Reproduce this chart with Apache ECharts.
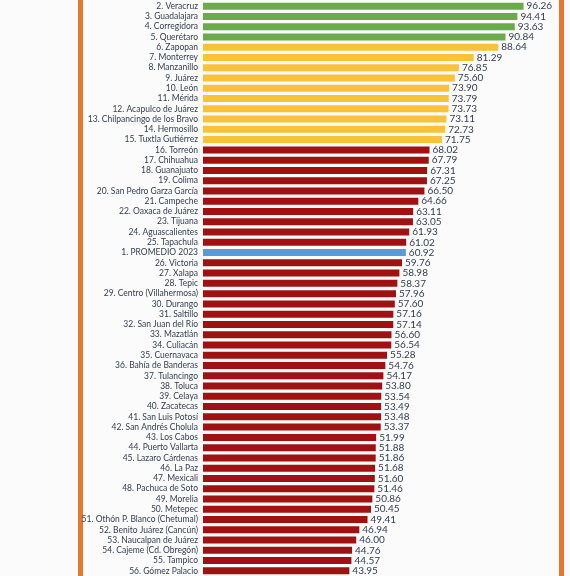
<!DOCTYPE html>
<html>
<head>
<meta charset="utf-8">
<script src="https://cdn.jsdelivr.net/npm/echarts@6/dist/echarts.min.js"></script>
<style>
html,body{margin:0;padding:0;background:#fbfbfb;}
#c{width:570px;height:576px;}
</style>
</head>
<body>
<div id="c"></div>
<script>
const categories = [
"2. Veracruz","3. Guadalajara","4. Corregidora","5. Querétaro","6. Zapopan","7. Monterrey","8. Manzanillo","9. Juárez","10. León","11. Mérida","12. Acapulco de Juárez","13. Chilpancingo de los Bravo","14. Hermosillo","15. Tuxtla Gutiérrez","16. Torreón","17. Chihuahua","18. Guanajuato","19. Colima","20. San Pedro Garza García","21. Campeche","22. Oaxaca de Juárez","23. Tijuana","24. Aguascalientes","25. Tapachula","1. PROMEDIO 2023","26. Victoria","27. Xalapa","28. Tepic","29. Centro (Villahermosa)","30. Durango","31. Saltillo","32. San Juan del Río","33. Mazatlán","34. Culiacán","35. Cuernavaca","36. Bahía de Banderas","37. Tulancingo","38. Toluca","39. Celaya","40. Zacatecas","41. San Luis Potosí","42. San Andrés Cholula","43. Los Cabos","44. Puerto Vallarta","45. Lazaro Cárdenas","46. La Paz","47. Mexicali","48. Pachuca de Soto","49. Morelia","50. Metepec","51. Othón P. Blanco (Chetumal)","52. Benito Juárez (Cancún)","53. Naucalpan de Juárez","54. Cajeme (Cd. Obregón)","55. Tampico","56. Gómez Palacio"
];
const values = [
96.26,94.41,93.63,90.84,88.64,81.29,76.85,75.60,73.90,73.79,73.73,73.11,72.73,71.75,68.02,67.79,67.31,67.25,66.50,64.66,63.11,63.05,61.93,61.02,60.92,59.76,58.98,58.37,57.96,57.60,57.16,57.14,56.60,56.54,55.28,54.76,54.17,53.80,53.54,53.49,53.48,53.37,51.99,51.88,51.86,51.68,51.60,51.46,50.86,50.45,49.41,46.94,46.00,44.76,44.57,43.95
];
const groups = [
"g","g","g","g","y","y","y","y","y","y","y","y","y","y","r","r","r","r","r","r","r","r","r","r","b","r","r","r","r","r","r","r","r","r","r","r","r","r","r","r","r","r","r","r","r","r","r","r","r","r","r","r","r","r","r","r"
];
const groupColors = {g:"#6cab4b", y:"#fcc13b", r:"#a01212", b:"#5b9bd5"};

const chart = echarts.init(document.getElementById('c'));
chart.setOption({
  backgroundColor: '#fbfbfb',
  animation: false,
  grid: {left: 203, top: 1, width: 333, height: 576, containLabel: false},
  xAxis: {type: 'value', min: 0, max: 100, show: false},
  yAxis: {
    type: 'category', inverse: true, data: categories,
    axisLine: {show: false}, axisTick: {show: false},
    axisLabel: {margin: 5, fontFamily: 'Lato', fontSize: 8.5, color: '#333d4f', interval: 0}
  },
  series: [{
    type: 'bar',
    barWidth: 7,
    data: values.map((v, i) => ({value: v, itemStyle: {color: groupColors[groups[i]]}})),
    label: {
      show: true, position: 'right', distance: 3,
      fontFamily: 'Lato', fontSize: 10, color: '#333d4f',
      formatter: p => p.value.toFixed(2)
    }
  }],
  graphic: [
    {type: 'rect', shape: {x: 78, y: 0, width: 5, height: 576}, style: {fill: '#e8772e'}},
    {type: 'rect', shape: {x: 559, y: 0, width: 5, height: 576}, style: {fill: '#e8772e'}}
  ]
});
</script>
</body>
</html>
